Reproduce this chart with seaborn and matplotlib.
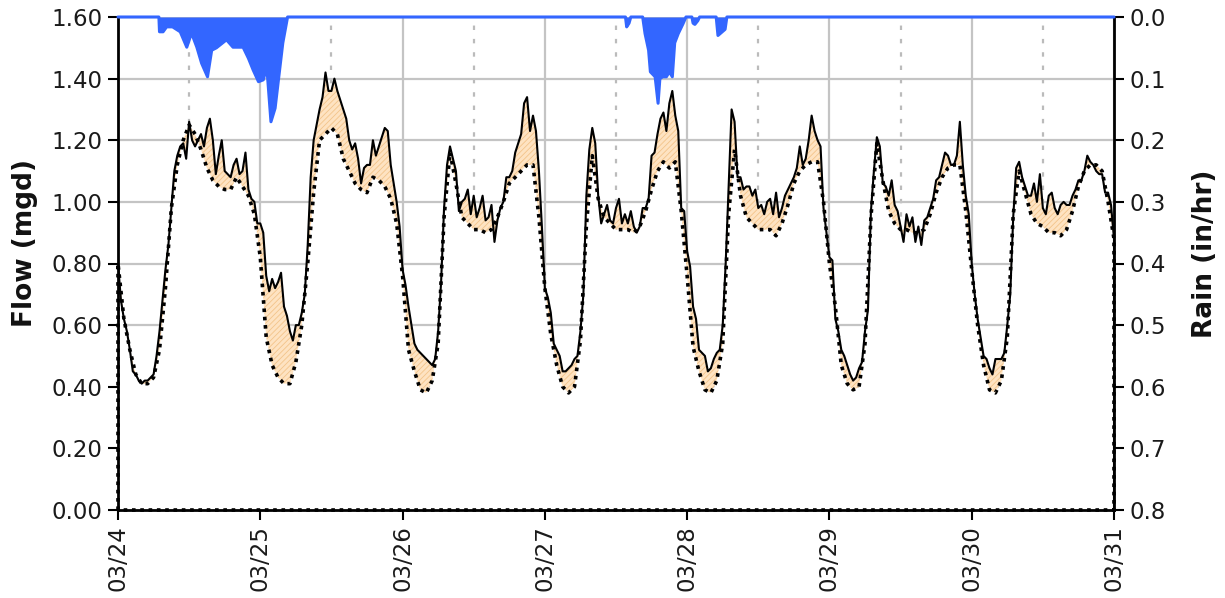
import numpy as np
import pandas as pd
import seaborn as sns
import matplotlib
matplotlib.use("Agg")
import matplotlib.pyplot as plt

# flow readings (mgd) on the hour, 03/24 00:00 .. 03/31 00:00
obs_hourly = [
    0.80, 0.62, 0.52, 0.44, 0.41, 0.42, 0.44, 0.58, 0.78, 0.98, 1.15, 1.19, 1.26, 1.18, 1.22, 1.24, 1.20, 1.15, 1.10, 1.08, 1.14, 1.10, 1.04, 1.00,
    0.93, 0.76, 0.75, 0.74, 0.66, 0.58, 0.60, 0.64, 0.86, 1.20, 1.30, 1.42, 1.36, 1.36, 1.30, 1.20, 1.19, 1.06, 1.12, 1.20, 1.18, 1.24, 1.12, 1.00,
    0.78, 0.66, 0.54, 0.51, 0.49, 0.47, 0.58, 0.98, 1.18, 1.10, 1.00, 1.04, 1.02, 0.98, 0.94, 0.99, 0.94, 1.00, 1.08, 1.16, 1.22, 1.34, 1.28, 1.10,
    0.72, 0.64, 0.52, 0.45, 0.46, 0.49, 0.58, 1.02, 1.24, 1.02, 0.96, 0.94, 0.98, 0.93, 0.93, 0.92, 0.92, 0.98, 1.15, 1.22, 1.29, 1.32, 1.28, 0.98,
    0.84, 0.66, 0.52, 0.50, 0.46, 0.51, 0.60, 1.05, 1.26, 1.08, 1.05, 1.02, 0.98, 0.96, 1.01, 1.03, 0.98, 1.04, 1.08, 1.18, 1.14, 1.28, 1.20, 0.98,
    0.82, 0.62, 0.52, 0.47, 0.42, 0.46, 0.58, 0.97, 1.21, 1.06, 1.02, 0.99, 0.92, 0.96, 0.95, 0.92, 0.94, 0.98, 1.07, 1.12, 1.15, 1.12, 1.26, 1.02,
    0.80, 0.62, 0.50, 0.46, 0.49, 0.49, 0.60, 0.95, 1.13, 1.05, 1.02, 1.00, 0.98, 1.02, 0.98, 0.99, 0.99, 1.02, 1.07, 1.10, 1.13, 1.10, 1.09, 1.03,
    0.88,
]

# flow readings (mgd) on the half hour, 00:30 .. 23:30 of each day
obs_halfhour = [
    0.68, 0.58, 0.45, 0.42, 0.42, 0.43, 0.50, 0.68, 0.86, 1.10, 1.18, 1.14, 1.20, 1.20, 1.18, 1.27, 1.09, 1.20, 1.09, 1.12, 1.09, 1.16, 1.01, 0.93,
    0.90, 0.71, 0.72, 0.77, 0.63, 0.55, 0.60, 0.70, 1.08, 1.25, 1.34, 1.36, 1.40, 1.33, 1.27, 1.17, 1.14, 1.11, 1.12, 1.15, 1.21, 1.23, 1.06, 0.92,
    0.73, 0.60, 0.52, 0.50, 0.48, 0.49, 0.74, 1.12, 1.14, 0.97, 1.01, 0.96, 0.95, 1.02, 0.95, 0.87, 0.98, 1.08, 1.10, 1.19, 1.32, 1.23, 1.23, 0.92,
    0.69, 0.54, 0.50, 0.45, 0.47, 0.50, 0.70, 1.17, 1.19, 0.93, 0.99, 0.93, 1.01, 0.96, 0.97, 0.90, 0.98, 1.01, 1.16, 1.27, 1.23, 1.36, 1.23, 0.97,
    0.79, 0.62, 0.51, 0.45, 0.49, 0.52, 0.80, 1.30, 1.08, 1.04, 1.05, 1.04, 0.99, 1.00, 0.96, 0.95, 1.02, 1.06, 1.11, 1.12, 1.20, 1.23, 1.18, 0.90,
    0.81, 0.58, 0.50, 0.44, 0.43, 0.48, 0.65, 1.10, 1.18, 1.05, 1.07, 0.97, 0.87, 0.92, 0.87, 0.86, 0.95, 1.01, 1.08, 1.16, 1.12, 1.15, 1.12, 0.96,
    0.70, 0.56, 0.49, 0.44, 0.49, 0.51, 0.70, 1.11, 1.08, 1.02, 1.06, 1.09, 0.96, 1.03, 0.96, 1.00, 0.99, 1.04, 1.07, 1.15, 1.12, 1.09, 1.03, 0.99,
]

# dry weather (base) flow on the hour
base_flow = [
    0.80, 0.62, 0.52, 0.44, 0.41, 0.41, 0.43, 0.52, 0.72, 0.98, 1.12, 1.20, 1.25, 1.22, 1.17, 1.11, 1.07, 1.05, 1.04, 1.04, 1.08, 1.05, 1.02, 0.96,
    0.82, 0.56, 0.47, 0.43, 0.41, 0.41, 0.48, 0.60, 0.80, 1.03, 1.20, 1.22, 1.24, 1.22, 1.14, 1.10, 1.06, 1.04, 1.03, 1.08, 1.07, 1.05, 1.01, 0.93,
    0.76, 0.52, 0.45, 0.39, 0.38, 0.42, 0.54, 0.95, 1.16, 1.06, 0.95, 0.93, 0.91, 0.91, 0.90, 0.91, 0.95, 1.00, 1.06, 1.08, 1.10, 1.12, 1.12, 0.95,
    0.72, 0.57, 0.47, 0.40, 0.38, 0.40, 0.55, 0.92, 1.15, 1.01, 0.95, 0.93, 0.91, 0.91, 0.91, 0.90, 0.92, 0.97, 1.04, 1.10, 1.13, 1.11, 1.13, 0.97,
    0.76, 0.53, 0.45, 0.39, 0.38, 0.42, 0.54, 0.96, 1.17, 1.02, 0.95, 0.93, 0.91, 0.91, 0.91, 0.89, 0.93, 0.99, 1.06, 1.10, 1.12, 1.13, 1.13, 1.00,
    0.80, 0.66, 0.47, 0.41, 0.39, 0.40, 0.54, 0.95, 1.19, 1.07, 0.97, 0.93, 0.91, 0.91, 0.90, 0.90, 0.91, 0.96, 1.03, 1.08, 1.11, 1.12, 1.12, 0.97,
    0.78, 0.60, 0.47, 0.39, 0.38, 0.42, 0.56, 0.96, 1.10, 1.03, 0.96, 0.93, 0.92, 0.90, 0.90, 0.89, 0.91, 0.97, 1.05, 1.10, 1.12, 1.12, 1.10, 1.00,
    0.88,
]

# rain intensity (in/hr) at hours since 03/24 00:00
rain_hours = [0, 6.9, 7.0, 7.6, 8.2, 9.2, 10.5, 11.6, 12.4, 13.3, 14.1, 15.1, 15.8, 16.6, 18.3, 19.4, 21.1, 22.0, 22.8, 23.7,
              24.5, 25.1, 25.8, 26.5, 27.0, 27.8, 28.6, 85.6, 85.8, 86.2, 86.5, 88.5, 88.9, 89.5, 89.8, 90.6, 91.1, 91.4,
              91.9, 92.5, 93.0, 93.5, 93.9, 94.5, 95.3, 95.8, 96.8, 97.0, 97.3, 97.8, 98.1, 100.9, 101.2, 101.8, 102.4,
              102.7, 168]
rain_vals = [0, 0, 0.024, 0.024, 0.016, 0.016, 0.024, 0.049, 0.026, 0.049, 0.075, 0.097, 0.054, 0.050, 0.037, 0.049, 0.049,
             0.067, 0.086, 0.105, 0.102, 0.081, 0.170, 0.148, 0.107, 0.042, 0, 0, 0.016, 0.010, 0, 0, 0.027, 0.054, 0.089,
             0.097, 0.14, 0.10, 0.097, 0.097, 0.089, 0.097, 0.042, 0.027, 0.011, 0, 0, 0.010, 0.012, 0.006, 0, 0, 0.030,
             0.025, 0.020, 0, 0]

day_labels = ["03/24", "03/25", "03/26", "03/27", "03/28", "03/29", "03/30", "03/31"]

sns.set_theme(style="white")
plt.rcParams["font.family"] = ["DejaVu Sans"]
plt.rcParams["hatch.linewidth"] = 0.6

hours = np.arange(len(base_flow), dtype=float)
base = np.array(base_flow)
# merge on-the-hour and half-hour readings into one series
obs_df = pd.concat([
    pd.DataFrame({"t": hours, "flow": obs_hourly}),
    pd.DataFrame({"t": hours[:-1] + 0.5, "flow": obs_halfhour}),
]).sort_values("t").reset_index(drop=True)
t_obs = obs_df["t"].to_numpy()
obs = obs_df["flow"].to_numpy()
end = hours[-1]

fig = plt.figure(figsize=(12.25, 5.98), dpi=100)
ax = fig.add_axes([118 / 1225, 1 - 510 / 598, 996 / 1225, 493 / 598])

# white area under base flow hides the grid, peach polygon = extra flow
ax.fill_between(hours, 0, base, color="white", lw=0, zorder=1)
ax.fill(np.r_[t_obs, hours[::-1]], np.r_[obs, base[::-1]],
        facecolor="#FEE3C2", edgecolor="#F3C48A", hatch="//////", lw=0, zorder=1.5)

# lines are closed down to zero at both ends, like the original
sns.lineplot(x=np.r_[t_obs[0], t_obs, end], y=np.r_[0, obs, 0], sort=False, estimator=None,
             color="black", lw=1.5, ax=ax, zorder=4)
sns.lineplot(x=np.r_[hours[0], hours, end, hours[0]], y=np.r_[0, base, 0, 0], sort=False, estimator=None,
             color="black", lw=2.6, linestyle=(0, (1, 1.3)), ax=ax, zorder=3, clip_on=False)

ax.set_xlim(0, end)
ax.set_ylim(0, 1.6)
ax.set_yticks(np.arange(0, 1.61, 0.2))
ax.set_yticklabels([f"{v:.2f}" for v in np.arange(0, 1.61, 0.2)])
ax.set_xticks(np.arange(0, end + 1, 24))
ax.set_xticklabels(day_labels, rotation=90)
ax.set_xticks(np.arange(12, end, 24), minor=True)
ax.set_axisbelow(True)
ax.grid(axis="y", color="#C4C4C4", lw=1.6)
ax.grid(axis="x", which="major", color="#C4C4C4", lw=1.6)
ax.grid(axis="x", which="minor", color="#BBBBBB", lw=1.6, linestyle=(0, (2, 4)))
ax.tick_params(axis="both", which="major", direction="out", length=7, width=1.5, color="black",
               labelcolor="#1a1a1a", labelsize=16.5, pad=4, left=True, bottom=True)
ax.tick_params(axis="x", which="minor", length=0)
for s in ["left", "bottom"]:
    ax.spines[s].set_color("black")
    ax.spines[s].set_linewidth(2)
ax.spines["top"].set_visible(False)
ax.spines["right"].set_visible(False)
ax.set_ylabel("")

# rain on an inverted right axis
ax2 = ax.twinx()
ax2.fill_between(rain_hours, 0, rain_vals, color="#3366FF", lw=0, zorder=2)
ax2.plot(rain_hours, rain_vals, color="#3366FF", lw=2.2, zorder=3, clip_on=False)
ax2.set_ylim(0.8, 0)
ax2.set_xlim(0, end)
ax2.set_yticks(np.arange(0, 0.81, 0.1))
ax2.set_yticklabels([f"{v:.1f}" for v in np.arange(0, 0.81, 0.1)])
ax2.tick_params(axis="y", direction="out", length=7, width=1.5, color="black", labelcolor="#1a1a1a",
                labelsize=16.5, pad=4, right=True)
ax2.grid(False)
for s in ["left", "bottom", "top"]:
    ax2.spines[s].set_visible(False)
ax2.spines["right"].set_color("black")
ax2.spines["right"].set_linewidth(2)

fig.text(25 / 1225, 1 - 243 / 598, "Flow (mgd)", rotation=90, ha="center", va="center",
         fontsize=19, fontweight="bold", color="#111111")
fig.text(1205 / 1225, 1 - 254 / 598, "Rain (in/hr)", rotation=90, ha="center", va="center",
         fontsize=19, fontweight="bold", color="#111111")

fig.savefig("out.png", dpi=100)
